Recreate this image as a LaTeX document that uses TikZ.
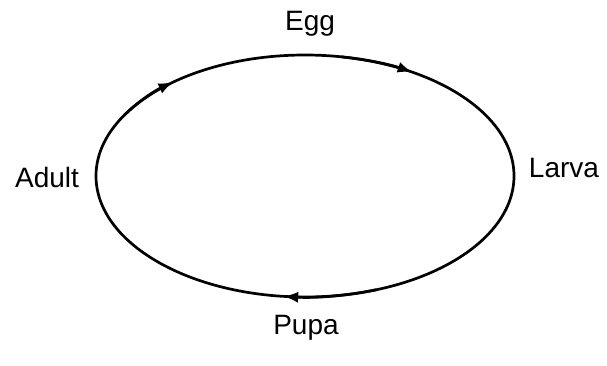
\documentclass[tikz,border=0pt]{standalone}
\usepackage{fontspec}
\setmainfont{Liberation Sans}
\usetikzlibrary{arrows.meta}

\begin{document}
\begin{tikzpicture}[
  x=1pt, y=1pt,
  stage/.style={font=\fontsize{28}{33}\selectfont, inner sep=0pt, anchor=base},
  cycle line/.style={line width=2.7pt},
  cycle arc/.style={-{Latex[length=15pt,width=11pt]}, line width=2.7pt}
]
  \useasboundingbox (0,0) rectangle (607,365);

  % centre of the cycle
  \coordinate (c) at (305,189);

  \node[stage] (egg) at (310,334) {Egg};
  \node[stage] (larva) at (564,188) {Larva};
  \node[stage] (pupa) at (306,31) {Pupa};
  \node[stage] (adult) at (47,178) {Adult};

  \draw[cycle line] (c) ellipse [x radius=209, y radius=121];

  % arrowheads on the cycle
  \draw[cycle arc] (c) ++(150:209 and 121)
    arc[start angle=150, end angle=129, x radius=209, y radius=121];
  \draw[cycle arc] (c) ++(80:209 and 121)
    arc[start angle=80, end angle=59, x radius=209, y radius=121];
  \draw[cycle arc] (c) ++(290:209 and 121)
    arc[start angle=290, end angle=264, x radius=209, y radius=121];
\end{tikzpicture}
\end{document}
